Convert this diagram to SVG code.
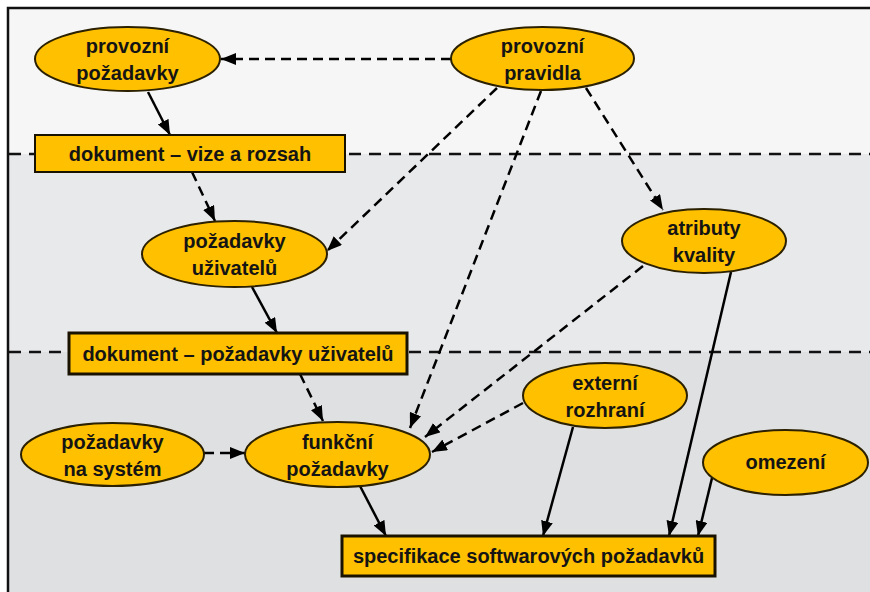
<svg xmlns="http://www.w3.org/2000/svg" width="870" height="592" viewBox="0 0 870 592">
<defs>
<marker id="ah" viewBox="0 0 15 12" refX="15" refY="6" markerWidth="15" markerHeight="12" markerUnits="userSpaceOnUse" orient="auto">
<path d="M0,0 L15,6 L0,12 Z" fill="#000"/>
</marker>
<style>
.el{fill:#FFC000;stroke:#2b2000;stroke-width:2}
.bx{fill:#FFC000;stroke:#1a1200;stroke-width:2}
.bx2{fill:#FFC000;stroke:#1a1200;stroke-width:3}
.t{font-family:"Liberation Sans",Arial,sans-serif;font-weight:bold;font-size:20px;fill:#141414;text-anchor:middle}
.s{fill:none;stroke:#000;stroke-width:2.5;marker-end:url(#ah)}
.d{fill:none;stroke:#000;stroke-width:2.5;stroke-dasharray:10 6;marker-end:url(#ah)}
.band{fill:none;stroke:#111;stroke-width:2.5;stroke-dasharray:12 8}
</style>
</defs>
<rect x="0" y="0" width="870" height="592" fill="#fff"/>
<rect x="8" y="8" width="870" height="146" fill="#f6f6f7"/>
<rect x="8" y="154" width="870" height="198" fill="#e8e9eb"/>
<rect x="8" y="352" width="870" height="250" fill="#dfe0e2"/>
<rect x="8" y="8" width="880" height="600" fill="none" stroke="#111" stroke-width="2.5"/>
<line class="band" x1="9" y1="154" x2="870" y2="154"/>
<line class="band" x1="9" y1="352" x2="870" y2="352"/>
<g id="connectors">
<path class="d" d="M451,59 L221,59"/>
<path class="s" d="M148,92 L170,135"/>
<path class="d" d="M192,172 L215,221"/>
<path class="d" d="M497,88 L327,251"/>
<path class="d" d="M541,91 L410,428"/>
<path class="d" d="M586,88 L663,210"/>
<path class="d" d="M643,266 L425,437"/>
<path class="d" d="M523,403 L432,452"/>
<path class="s" d="M252,287 L277,333"/>
<path class="d" d="M300,374 L323,421"/>
<path class="d" d="M204,453 L245,453"/>
<path class="s" d="M360,486 L386,536"/>
<path class="s" d="M573,427 L543,536"/>
<path class="s" d="M731,272 L669,536"/>
<path class="s" d="M712,478 L698,536"/>
</g>
<g id="provozni-pozadavky"><ellipse class="el" cx="127.5" cy="59" rx="92.5" ry="32"/><text class="t" x="127.5" y="53">provozní</text><text class="t" x="127.5" y="80">požadavky</text></g>
<g id="provozni-pravidla"><ellipse class="el" cx="542.5" cy="58.5" rx="91.5" ry="31.5"/><text class="t" x="542.5" y="52.5">provozní</text><text class="t" x="542.5" y="79.5">pravidla</text></g>
<g id="dokument-vize"><rect class="bx" x="35" y="135" width="310" height="37"/><text class="t" x="190" y="161">dokument – vize a rozsah</text></g>
<g id="pozadavky-uzivatelu"><ellipse class="el" cx="234.5" cy="254" rx="92.5" ry="33"/><text class="t" x="234.5" y="248">požadavky</text><text class="t" x="234.5" y="275">uživatelů</text></g>
<g id="dokument-pozadavky"><rect class="bx2" x="69" y="333" width="338" height="41"/><text class="t" x="238" y="361">dokument – požadavky uživatelů</text></g>
<g id="atributy-kvality"><ellipse class="el" cx="704" cy="241" rx="82" ry="32"/><text class="t" x="704" y="235">atributy</text><text class="t" x="704" y="262">kvality</text></g>
<g id="externi-rozhrani"><ellipse class="el" cx="605" cy="395.5" rx="82" ry="32.5"/><text class="t" x="605" y="389.5">externí</text><text class="t" x="605" y="416.5">rozhraní</text></g>
<g id="omezeni"><ellipse class="el" cx="785.5" cy="462.5" rx="82.5" ry="32.5"/><text class="t" x="785.5" y="469">omezení</text></g>
<g id="pozadavky-na-system"><ellipse class="el" cx="112.5" cy="454.5" rx="91.5" ry="31.5"/><text class="t" x="112.5" y="448.5">požadavky</text><text class="t" x="112.5" y="475.5">na systém</text></g>
<g id="funkcni-pozadavky"><ellipse class="el" cx="337.5" cy="454.5" rx="92.5" ry="32.5"/><text class="t" x="337.5" y="448.5">funkční</text><text class="t" x="337.5" y="475.5">požadavky</text></g>
<g id="specifikace"><rect class="bx2" x="342" y="536" width="373" height="40"/><text class="t" x="528.5" y="563">specifikace softwarových požadavků</text></g>
</svg>
